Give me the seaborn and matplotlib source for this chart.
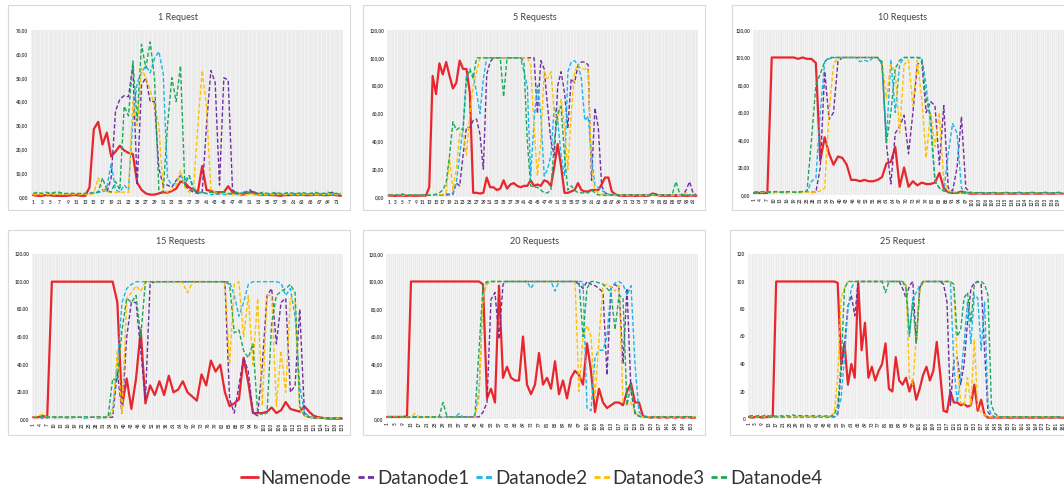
import numpy as np
import pandas as pd
import matplotlib
matplotlib.use('Agg')
import matplotlib.pyplot as plt
from matplotlib.lines import Line2D
from matplotlib.patches import Rectangle
from matplotlib.colors import to_hex
import seaborn as sns

sns.set_style('white')
plt.rcParams['font.family'] = ['Lato', 'DejaVu Sans']

W, H = 1064, 488

nodes = ['Namenode', 'Datanode1', 'Datanode2', 'Datanode3', 'Datanode4']
colors = {'Namenode': '#e8262d', 'Datanode1': '#7030a0', 'Datanode2': '#1cb5ea',
          'Datanode3': '#ffc000', 'Datanode4': '#1ea85a'}
dash_map = {'Namenode': '', 'Datanode1': (3, 1.6), 'Datanode2': (3, 1.6),
            'Datanode3': (3, 1.6), 'Datanode4': (3, 1.6)}

titles = ['1 Request', '5 Requests', '10 Requests', '15 Requests', '20 Requests', '25 Request']
n_points = [72, 92, 141, 133, 156, 185]
sample_step = [1, 1, 2, 2, 2, 2]
label_step = [2, 2, 3, 3, 4, 4]
y_max = [70, 120, 120, 120, 120, 120]
y_step = [10, 20, 20, 20, 20, 20]
y_style = ['comma', 'comma', 'comma', 'dot', 'comma', 'int']

# ---- 1 Request (every sample) ----
p1_nn = [0.8, 0.5, 0.5, 0.8, 0.7, 0.5, 0.5, 0.4, 0.5, 0.8, 0.8, 0.5,
         0.5, 4, 28.5, 31.5, 22, 27, 17, 19, 21.5, 19.5, 18.5, 18,
         6, 3, 1.5, 1, 1, 1.5, 2, 1.8, 2.5, 3.5, 6.5, 6,
         4, 3, 2, 13, 3, 2.5, 2, 2, 2, 4.5, 2, 1.5,
         1, 1.2, 2, 2, 1, 1, 1, 0.8, 0.8, 0.5, 0.8, 0.8,
         1, 0.8, 1, 0.8, 0.8, 1, 1, 0.8, 0.8, 1, 0.8, 0.5]
p1_d1 = [1, 1.2, 1, 1, 1.5, 1, 1.2, 1, 1, 1.5, 1, 1.2,
         1, 1.5, 1.5, 2, 3, 2, 8, 36, 41, 42.5, 42, 55,
         5, 47, 50, 40, 40, 12, 5, 5, 4, 7, 9, 5,
         3, 2, 1.5, 2, 30, 53, 48, 5, 50, 49, 3, 1.5,
         1.5, 2, 3, 1.5, 1.5, 1, 1.2, 1, 1.5, 1, 1.2, 1,
         1.5, 1, 1.2, 1, 1.5, 1, 1.2, 1, 1.5, 2, 1.2, 1]
p1_d2 = [1, 1, 1.2, 1, 1, 1.2, 1, 1, 1.2, 1, 1, 1.2,
         1, 1.5, 1.5, 2, 2, 4, 14, 3, 2, 5, 3, 32,
         48, 52, 55, 52, 58, 61, 52, 8, 5, 6, 9, 7,
         9, 4, 2, 1.5, 1.5, 1, 1, 1.2, 1, 1, 1.2, 1,
         1.5, 2.5, 1.5, 1, 1, 1.2, 1, 1, 1.2, 1, 1, 1.2,
         1, 1, 1.2, 1, 1, 1.2, 1, 1, 1.2, 1, 1.5, 1]
p1_d3 = [1, 1, 1, 1.2, 1, 1, 1.2, 1, 1, 1.2, 1, 1,
         1.2, 1, 1.5, 8, 3, 2, 2, 2, 2, 2, 2, 40,
         30, 54, 50, 45, 38, 30, 3, 2, 3, 5, 11, 4,
         2, 3, 30, 53, 38, 3, 2, 1.5, 1.5, 1.2, 1, 1,
         1.2, 1, 1, 1.2, 1, 1, 1.2, 1, 1, 1.2, 1, 1,
         1.2, 1, 1, 1.2, 1, 1, 1.2, 1, 1, 1.2, 1, 1]
p1_d4 = [1.5, 2, 1.5, 2, 1.5, 2, 2, 1.5, 1.5, 1.5, 1.5, 1.5,
         1.5, 1.5, 2, 2, 8, 3, 2, 6.5, 3, 38, 34, 57,
         32, 64, 54, 65, 50, 3, 2, 30, 50, 40, 55, 5,
         9, 3, 2, 2, 1.5, 2, 1.5, 1.5, 2, 1.5, 1.5, 2,
         1.5, 1.5, 2, 1.5, 1.5, 2, 1.5, 1.5, 2, 1.5, 1.5, 2,
         1.5, 1.5, 2, 1.5, 1.5, 2, 1.5, 1.5, 2, 1.5, 1.5, 1.5]

# ---- 5 Requests (every sample) ----
p2_nn = [1, 1, 0.8, 1, 1, 0.8, 1, 1, 0.8, 1, 1, 1,
         7, 87, 74, 96, 88, 97, 87, 78, 82, 98, 92, 92,
         75, 3, 3, 2.5, 3, 14, 7, 7, 5, 6, 12, 6,
         9, 10, 8, 7, 8, 8, 12, 8, 9, 8, 12, 11,
         8, 22, 38, 22, 3, 3, 4, 5, 10, 5, 4, 4,
         5, 5, 5, 9, 14, 14, 4, 2, 1, 1, 0.8, 1,
         1, 0.8, 1, 1, 0.8, 1, 2.5, 2, 1, 1, 0.8, 1,
         1, 0.8, 1, 1, 0.8, 1, 1, 0.8]
p2_d1 = [1.5, 1.2, 1.5, 1.5, 2, 1.5, 1.2, 1.5, 1.5, 1.2, 1.5, 1.5,
         1.2, 1.5, 1.5, 1.2, 1.5, 2, 2, 2, 10, 8, 30, 50,
         50, 55, 56, 45, 20, 88, 97, 100, 100, 100, 100, 100,
         100, 100, 100, 100, 100, 100, 100, 100, 60, 98, 92, 65,
         40, 30, 80, 90, 75, 50, 85, 82, 95, 97, 97, 95,
         12, 64, 50, 8, 3, 2, 1.5, 1.5, 1.2, 1.5, 1.5, 1.2,
         1.5, 1.5, 1.2, 1.5, 1.5, 1.2, 1.5, 1.5, 1.2, 1.5, 1.5, 1.2,
         1.5, 1.5, 1.2, 1.5, 5, 11, 3, 1.5]
p2_d2 = [1.5, 1.5, 1.2, 1.5, 1.5, 1.2, 1.5, 1.5, 1.2, 1.5, 1.5, 1.2,
         1.5, 1.5, 1.2, 1.5, 1.5, 1.2, 1.5, 3, 10, 30, 50, 88,
         90, 88, 75, 60, 85, 100, 100, 100, 100, 100, 100, 100,
         100, 100, 100, 100, 90, 80, 15, 55, 80, 60, 15, 20,
         30, 65, 55, 30, 15, 90, 97, 98, 95, 85, 55, 58,
         30, 8, 7, 5, 3, 2, 1.5, 1.5, 1.2, 1.5, 1.5, 1.2,
         1.5, 1.5, 1.2, 1.5, 1.5, 1.2, 1.5, 1.5, 1.2, 1.5, 1.5, 1.2,
         1.5, 1.5, 1.2, 1.5, 1.5, 1.2, 1.5, 1.5]
p2_d3 = [1.2, 1.5, 1.2, 1.2, 1.5, 1.2, 1.2, 1.5, 1.2, 1.2, 1.5, 1.2,
         1.2, 1.5, 1.2, 1.5, 2, 3, 28, 5, 20, 45, 48, 30,
         60, 80, 90, 100, 100, 100, 100, 100, 100, 100, 100, 100,
         100, 100, 100, 100, 100, 100, 95, 50, 15, 40, 90, 85,
         90, 60, 55, 70, 50, 20, 60, 90, 95, 92, 92, 92,
         20, 5, 3, 2, 1.5, 1.2, 1.5, 1.2, 1.2, 1.5, 1.2, 1.2,
         1.5, 1.2, 1.2, 1.5, 1.2, 1.2, 1.5, 1.2, 1.2, 1.5, 1.2, 1.2,
         1.5, 1.2, 1.2, 1.5, 3, 1.2, 1.5, 1.2]
p2_d4 = [1.5, 1.5, 1.2, 1.5, 2, 1.5, 1.2, 1.5, 1.5, 1.2, 1.5, 1.5,
         1.2, 1.5, 2, 3, 5, 10, 30, 54, 48, 50, 48, 85,
         92, 85, 100, 100, 100, 100, 100, 100, 100, 100, 72, 100,
         100, 100, 100, 100, 97, 40, 8, 7, 7, 5, 3, 3,
         5, 40, 60, 65, 30, 5, 8, 5, 3, 3, 3, 3,
         5, 3, 1.5, 1.5, 1.2, 1.5, 1.5, 1.2, 1.5, 1.5, 1.2, 1.5,
         1.5, 1.2, 1.5, 1.5, 1.2, 1.5, 1.5, 1.2, 1.5, 1.5, 1.2, 1.5,
         3, 11, 3, 1.5, 1.2, 1.5, 1.5, 1.2]

# ---- 10 Requests (every 2nd sample: 1, 3, ..., 141) ----
p3_nn = [1.5, 1.5, 1.5, 1.5, 100, 100, 100, 100, 100, 100,
         99, 100, 99, 99, 96, 25, 42, 30, 22, 28,
         27, 22, 11, 11, 10, 11, 10, 10, 11, 13,
         23, 24, 35, 6, 20, 6, 10, 7, 9, 8,
         8, 9, 16, 5, 2, 1.5, 1.5, 2.5, 1.5, 1,
         1, 1.2, 1, 1, 1.2, 1, 1, 1.2, 1, 1,
         1.2, 1, 1, 1.2, 1, 1, 1.2, 1, 1, 1.2,
         1]
p3_d1 = [2, 2, 2, 2.5, 2, 2, 2, 2.5, 2, 2,
         2, 2.5, 2, 2, 2, 20, 90, 55, 60, 97,
         100, 100, 100, 100, 100, 100, 100, 100, 100, 95,
         37, 8, 45, 50, 58, 30, 60, 95, 97, 60,
         68, 65, 22, 65, 5, 3, 20, 57, 5, 2,
         1.5, 1.5, 1.2, 1.5, 1.5, 1.2, 1.5, 1.5, 1.2, 1.5,
         1.5, 1.2, 1.5, 1.5, 1.2, 1.5, 1.5, 1.2, 1.5, 1.5,
         1.2]
p3_d2 = [2, 1.5, 2, 2, 1.5, 2, 2, 1.5, 2, 2,
         2, 2, 2, 10, 12, 60, 97, 99, 100, 100,
         100, 100, 100, 100, 97, 98, 97, 100, 100, 95,
         40, 98, 60, 95, 100, 100, 100, 100, 100, 80,
         50, 10, 5, 3, 30, 52, 45, 5, 2, 1.5,
         1.5, 1.2, 1.5, 1.5, 1.2, 1.5, 1.5, 1.2, 1.5, 1.5,
         1.2, 1.5, 1.5, 1.2, 1.5, 1.5, 1.2, 1.5, 1.5, 1.2,
         1.5]
p3_d3 = [2, 1.5, 2, 2, 1.5, 2, 2, 1.5, 2, 2,
         1.5, 2, 2, 1.5, 2, 3, 5, 60, 95, 100,
         100, 100, 100, 100, 100, 100, 100, 100, 100, 97,
         70, 95, 90, 45, 95, 98, 65, 98, 70, 27,
         60, 35, 60, 10, 3, 2, 1.5, 1.5, 1.2, 1.5,
         1.5, 1.2, 1.5, 1.5, 1.2, 1.5, 1.5, 1.2, 1.5, 1.5,
         1.2, 1.5, 1.5, 1.2, 1.5, 1.5, 1.2, 1.5, 1.5, 1.2,
         1.5]
p3_d4 = [2, 2, 2.5, 2, 2, 2.5, 2, 2, 2.5, 2,
         2, 2.5, 3, 40, 80, 88, 97, 100, 100, 100,
         100, 100, 100, 100, 100, 100, 100, 100, 100, 97,
         38, 60, 92, 98, 100, 100, 100, 100, 99, 70,
         58, 10, 5, 3, 2, 1.5, 1.5, 1.5, 2, 1.5,
         1.5, 2, 1.5, 1.5, 2, 1.5, 1.5, 2, 1.5, 1.5,
         2, 1.5, 1.5, 2, 1.5, 1.5, 2, 1.5, 1.5, 2,
         1.5]

# ---- 15 Requests (every 2nd sample: 1, 3, ..., 133) ----
p4_nn = [2, 2, 3, 2, 100, 100, 100, 100, 100, 100,
         100, 100, 100, 100, 100, 100, 100, 100, 85, 10,
         30, 8, 30, 65, 12, 25, 18, 28, 18, 32,
         20, 22, 28, 20, 17, 14, 33, 25, 43, 35,
         40, 20, 10, 12, 15, 45, 27, 5, 5, 5,
         6, 9, 5, 7, 13, 8, 7, 6, 10, 6,
         3, 2, 1.5, 1, 1, 1, 1]
p4_d1 = [2, 2, 1.5, 2, 2, 1.5, 2, 2, 1.5, 2,
         2, 1.5, 2, 2, 1.5, 2, 2, 2, 35, 5,
         60, 85, 85, 50, 15, 98, 100, 100, 100, 100,
         100, 100, 100, 100, 100, 100, 100, 100, 100, 100,
         100, 100, 15, 5, 25, 45, 35, 5, 3, 40,
         90, 95, 55, 85, 88, 20, 25, 80, 5, 2,
         1.5, 1.5, 1.2, 1.5, 1.5, 1.2, 1.5]
p4_d2 = [2, 2, 2, 1.5, 2, 2, 2, 1.5, 2, 2,
         2, 1.5, 2, 2, 2, 1.5, 2, 8, 40, 85,
         95, 98, 100, 100, 100, 100, 100, 100, 100, 100,
         100, 100, 100, 100, 100, 100, 100, 100, 100, 100,
         100, 100, 100, 90, 75, 85, 98, 100, 100, 100,
         100, 100, 100, 99, 90, 95, 75, 25, 5, 3,
         1.5, 1.5, 1.2, 1.5, 1.5, 1.2, 1.5]
p4_d3 = [2, 3, 4, 2, 2, 2, 2, 2, 2, 2,
         2, 2, 2, 2, 2, 2, 2, 5, 50, 5,
         88, 92, 97, 93, 100, 100, 100, 100, 100, 100,
         100, 100, 99, 92, 99, 100, 100, 100, 100, 100,
         100, 99, 40, 98, 100, 60, 90, 40, 88, 10,
         90, 90, 10, 50, 20, 88, 85, 8, 3, 2,
         1.5, 1.5, 1.2, 1.5, 1.5, 1.2, 1.5]
p4_d4 = [2, 2, 2.5, 2, 2, 2.5, 2, 2, 2.5, 2,
         2, 2.5, 2, 2, 2.5, 2, 2, 30, 28, 65,
         88, 85, 90, 60, 100, 100, 100, 100, 100, 100,
         100, 100, 100, 100, 100, 100, 100, 100, 100, 100,
         100, 100, 98, 63, 65, 50, 45, 55, 5, 4,
         5, 70, 90, 93, 95, 98, 92, 10, 3, 2,
         1.5, 1.5, 1.2, 1.5, 1.5, 1.2, 1.5]

# ---- 20 Requests (every 2nd sample: 1, 3, ..., 155) ----
p5_nn = [1.5, 1.5, 1.5, 1.5, 1.5, 2, 100, 100, 100, 100,
         100, 100, 100, 100, 100, 100, 100, 100, 100, 100,
         100, 100, 100, 100, 98, 15, 22, 12, 97, 30,
         38, 30, 28, 28, 60, 25, 18, 25, 48, 25,
         30, 22, 42, 18, 28, 15, 30, 35, 32, 25,
         55, 35, 5, 22, 12, 8, 10, 12, 12, 10,
         20, 26, 12, 12, 2, 1.5, 1, 1.5, 1, 1.5,
         1, 1.5, 1, 1.5, 1, 1.5, 1, 1]
p5_d1 = [1.5, 1.5, 1.2, 1.5, 1.5, 1.2, 1.5, 1.5, 1.2, 1.5,
         1.5, 1.2, 1.5, 1.5, 1.2, 1.5, 1.5, 1.2, 1.5, 1.5,
         1.5, 1.5, 1.5, 1.5, 5, 12, 87, 92, 58, 98,
         100, 100, 100, 100, 100, 100, 100, 100, 100, 100,
         100, 100, 100, 100, 100, 100, 100, 100, 98, 95,
         100, 98, 97, 95, 92, 32, 95, 98, 95, 40,
         95, 20, 4, 2, 1.5, 1.5, 1.2, 1.5, 1.5, 1.2,
         1.5, 1.5, 1.2, 1.5, 1.5, 1.2, 1.5, 1.5]
p5_d2 = [1.5, 1.5, 1.2, 1.5, 1.5, 1.2, 1.5, 1.5, 1.2, 1.5,
         1.5, 1.2, 1.5, 1.5, 1.2, 1.5, 1.5, 1.2, 4, 1.5,
         1.5, 1.5, 1.5, 20, 90, 99, 100, 100, 100, 100,
         100, 100, 100, 100, 100, 100, 95, 100, 100, 100,
         100, 100, 93, 100, 100, 100, 100, 100, 100, 100,
         8, 6, 45, 50, 50, 60, 95, 99, 100, 98,
         90, 97, 40, 5, 2, 1.5, 1.5, 1.2, 1.5, 1.5,
         1.2, 1.5, 1.5, 1.2, 1.5, 1.5, 1.2, 1.5]
p5_d3 = [1.5, 1.5, 1.5, 1.5, 1.5, 1.5, 1.5, 4, 1.5, 1.5,
         1.5, 1.2, 1.5, 1.5, 1.2, 1.5, 1.5, 1.2, 1.5, 1.5,
         1.5, 1.5, 1.5, 15, 90, 98, 100, 100, 100, 100,
         100, 100, 100, 100, 100, 100, 100, 100, 100, 100,
         100, 100, 100, 100, 100, 100, 100, 100, 20, 60,
         68, 60, 15, 58, 97, 98, 96, 93, 97, 12,
         10, 12, 5, 2, 1.5, 1.5, 1.2, 1.5, 1.5, 1.2,
         1.5, 1.5, 1.2, 1.5, 1.5, 1.2, 1.5, 1.5]
p5_d4 = [1.5, 1.5, 1.2, 1.5, 1.5, 1.2, 1.5, 1.5, 1.2, 1.5,
         1.5, 1.5, 1.5, 1.5, 12, 2, 1.5, 1.5, 1.5, 1.5,
         1.5, 1.5, 3, 50, 97, 100, 100, 100, 100, 100,
         100, 100, 100, 100, 100, 100, 100, 100, 100, 100,
         100, 100, 100, 100, 100, 100, 100, 100, 100, 60,
         95, 100, 100, 99, 98, 95, 92, 65, 90, 88,
         10, 25, 5, 2, 1.5, 1.5, 1.2, 1.5, 1.5, 1.2,
         1.5, 1.5, 1.2, 1.5, 1.5, 1.2, 1.5, 1.5]

# ---- 25 Request (every 2nd sample: 1, 3, ..., 185) ----
p6_nn = [1.5, 1, 1.5, 1.5, 1, 1.5, 1.5, 2, 100, 100,
         100, 100, 100, 100, 100, 100, 100, 100, 100, 100,
         100, 100, 100, 100, 100, 100, 99, 40, 55, 25,
         40, 30, 100, 50, 70, 30, 38, 28, 35, 40,
         55, 22, 20, 45, 28, 25, 30, 20, 28, 14,
         22, 32, 38, 28, 35, 56, 33, 6, 5, 20,
         12, 12, 10, 11, 9, 10, 25, 6, 14, 3,
         1, 1, 1.2, 1, 1, 1.2, 1, 1, 1.2, 1,
         1, 1.2, 1, 1, 1.2, 1, 1, 1.2, 1, 1,
         1.2, 1, 1]
p6_d1 = [1.5, 1.5, 1.2, 1.5, 1.5, 1.2, 1.5, 1.5, 1.2, 1.5,
         1.5, 1.2, 1.5, 1.5, 1.2, 1.5, 1.5, 1.2, 1.5, 1.5,
         1.2, 1.5, 1.5, 1.2, 1.5, 1.5, 3, 35, 55, 82,
         90, 75, 100, 100, 100, 100, 100, 100, 100, 100,
         100, 100, 100, 100, 100, 95, 88, 97, 100, 55,
         95, 100, 100, 100, 100, 100, 100, 98, 85, 10,
         42, 45, 25, 40, 70, 95, 99, 100, 98, 50,
         5, 2, 1.5, 1.5, 1.2, 1.5, 1.5, 1.2, 1.5, 1.5,
         1.2, 1.5, 1.5, 1.2, 1.5, 1.5, 1.2, 1.5, 1.5, 1.2,
         1.5, 1.5, 1.2]
p6_d2 = [1.5, 1.2, 1.5, 1.5, 1.2, 1.5, 1.5, 1.2, 1.5, 1.5,
         1.2, 1.5, 1.5, 1.2, 1.5, 1.5, 1.2, 1.5, 1.5, 1.2,
         1.5, 1.5, 1.2, 1.5, 1.5, 1.2, 5, 15, 45, 80,
         95, 100, 100, 100, 100, 100, 100, 100, 100, 100,
         100, 100, 100, 100, 100, 100, 97, 60, 88, 92,
         97, 100, 100, 100, 100, 100, 100, 100, 100, 100,
         40, 12, 30, 55, 85, 55, 90, 88, 50, 85,
         10, 3, 1.5, 1.5, 1.2, 1.5, 1.5, 1.2, 1.5, 1.5,
         1.2, 1.5, 1.5, 1.2, 1.5, 1.5, 1.2, 1.5, 1.5, 1.2,
         1.5, 1.5, 1.2]
p6_d3 = [2, 2, 1.5, 2, 2, 1.5, 2, 2, 1.5, 2,
         2, 1.5, 2, 2, 1.5, 2, 2, 1.5, 2, 2,
         2, 2, 1.5, 2, 2, 5, 30, 88, 95, 100,
         100, 100, 100, 100, 100, 100, 100, 100, 100, 100,
         100, 100, 100, 100, 100, 100, 98, 30, 25, 60,
         92, 100, 100, 100, 100, 100, 100, 100, 100, 100,
         95, 40, 12, 10, 30, 10, 58, 8, 5, 3,
         1.5, 1.5, 1.2, 1.5, 1.5, 1.2, 1.5, 1.5, 1.2, 1.5,
         1.5, 1.2, 1.5, 1.5, 1.2, 1.5, 1.5, 1.2, 1.5, 1.5,
         1.2, 1.5, 1.5]
p6_d4 = [2, 2.5, 2, 2.5, 2, 3, 2, 2.5, 2, 2.5,
         2, 2.5, 2, 3, 2, 2.5, 2, 2.5, 2, 2.5,
         2, 2.5, 2, 2.5, 2, 3, 10, 40, 95, 100,
         100, 100, 100, 100, 100, 100, 100, 100, 100, 100,
         92, 100, 100, 100, 100, 100, 95, 62, 85, 55,
         95, 100, 100, 100, 100, 100, 100, 100, 100, 100,
         98, 60, 65, 88, 92, 70, 98, 100, 100, 98,
         90, 10, 4, 2, 1.5, 1.5, 1.5, 1.5, 1.5, 1.5,
         1.5, 1.5, 1.5, 1.5, 1.5, 1.5, 1.5, 1.5, 1.5, 1.5,
         1.5, 1.5, 1.5]

panels = [
    [p1_nn, p1_d1, p1_d2, p1_d3, p1_d4],
    [p2_nn, p2_d1, p2_d2, p2_d3, p2_d4],
    [p3_nn, p3_d1, p3_d2, p3_d3, p3_d4],
    [p4_nn, p4_d1, p4_d2, p4_d3, p4_d4],
    [p5_nn, p5_d1, p5_d2, p5_d3, p5_d4],
    [p6_nn, p6_d1, p6_d2, p6_d3, p6_d4],
]

# layout in pixels: plot area, chart border, title centre
plot_px = [(31, 30, 343, 197), (387, 30, 698, 197), (753, 30, 1064, 195),
           (32, 254, 343, 420), (386, 254, 698, 419), (748, 254, 1064, 419)]
box_px = [(8, 5, 350, 210), (363, 5, 705, 210), (732, 5, 1075, 210),
          (8, 230, 350, 435), (363, 230, 705, 435), (730, 230, 1075, 435)]
title_px = [(178, 17), (535, 17), (903, 17), (180, 241), (535, 241), (903, 241)]


def ylabel(v, style):
    if style == 'int':
        return f'{v:.0f}'
    s = f'{v:.2f}'
    return s.replace('.', ',') if style == 'comma' else s


fig = plt.figure(figsize=(W / 100, H / 100), dpi=100)

for k in range(6):
    bx0, by0, bx1, by1 = box_px[k]
    fig.add_artist(Rectangle((bx0 / W, 1 - by1 / H), (bx1 - bx0) / W, (by1 - by0) / H,
                             transform=fig.transFigure, fill=False, ec='#d9d9d9', lw=0.8))
    fig.text(title_px[k][0] / W, 1 - title_px[k][1] / H, titles[k], ha='center', va='center',
             fontsize=6.5, color='#404040')

    x0, y0, x1, y1 = plot_px[k]
    ax = fig.add_axes([x0 / W, 1 - y1 / H, (x1 - x0) / W, (y1 - y0) / H])
    n = n_points[k]
    t = np.arange(1, n + 1, sample_step[k])
    df = pd.DataFrame({'t': t, **dict(zip(nodes, panels[k]))})
    long = df.melt(id_vars='t', var_name='node', value_name='cpu')
    sns.lineplot(data=long, x='t', y='cpu', hue='node', style='node', hue_order=nodes,
                 style_order=nodes, palette=colors, dashes=dash_map, linewidth=1.0,
                 estimator=None, legend=False, ax=ax)
    for line in ax.lines:
        if to_hex(line.get_color()) == colors['Namenode']:
            line.set_linewidth(1.6)

    ax.set_xlim(0.5, n + 0.5)
    ax.set_ylim(0, y_max[k])
    ax.set_facecolor('#ebebeb')
    ax.grid(False)
    ax.set_xticks(np.arange(1, n + 1, label_step[k]))
    ax.set_xticks(np.arange(0.5, n + 1, 1), minor=True)
    ax.grid(which='minor', axis='x', color='#f7f7f7', lw=0.5)
    yt = np.arange(0, y_max[k] + 1, y_step[k])
    ax.set_yticks(yt)
    ax.set_yticklabels([ylabel(v, y_style[k]) for v in yt])
    ax.tick_params(which='both', length=0, labelsize=3.4, labelcolor='#404040', pad=2)
    if k >= 2:
        plt.setp(ax.get_xticklabels(), rotation=90)
    for lab in ax.get_xticklabels() + ax.get_yticklabels():
        lab.set_fontweight('bold')
    ax.set_xlabel('')
    ax.set_ylabel('')
    for s in ax.spines.values():
        s.set_visible(False)

handles = [Line2D([], [], color=colors[nd], lw=2.0,
                  ls='-' if nd == 'Namenode' else (0, (2.2, 1.2))) for nd in nodes]
fig.legend(handles, nodes, loc='center', bbox_to_anchor=(0.5, 1 - 478 / H), ncol=5,
           frameon=False, fontsize=13.5, handlelength=0.9, handletextpad=0.12,
           columnspacing=0.35, labelcolor='#333333')

fig.savefig('out.png', dpi=100)
